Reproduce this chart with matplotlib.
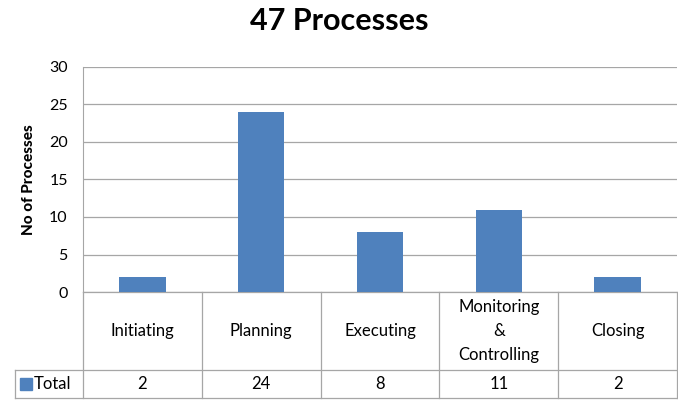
import matplotlib.pyplot as plt
from matplotlib.lines import Line2D
from matplotlib.patches import Rectangle

plt.rcParams['font.family'] = ['Lato', 'DejaVu Sans']

# data
categories = ['Initiating', 'Planning', 'Executing', 'Monitoring\n&\nControlling', 'Closing']
totals = [2, 24, 8, 11, 2]
series_name = 'Total'
bar_color = '#4F81BD'
grid_color = '#A6A6A6'

fig = plt.figure(figsize=(6.78, 4.03), dpi=100)
ax = fig.add_axes([83 / 678, 1 - 292 / 403, 594 / 678, 225 / 403])

x = range(len(categories))
ax.bar(x, totals, width=0.39, color=bar_color, zorder=3)
ax.set_xlim(-0.5, len(categories) - 0.5)
ax.set_ylim(0, 30)
ax.set_yticks(range(0, 31, 5))
ax.yaxis.grid(True, color=grid_color, linewidth=0.9, zorder=0)
ax.set_xticks([])
ax.tick_params(axis='y', length=0, pad=11, labelsize=11.5)
for s in ['top', 'right', 'bottom']:
    ax.spines[s].set_visible(False)
ax.spines['left'].set_color(grid_color)
ax.set_ylabel('No of Processes', fontsize=11, fontweight='black', labelpad=9)

fig.text(0.5, 1 - 21 / 403, '47 Processes', fontsize=22, fontweight='bold',
         ha='center', va='center')

# data table under the chart
row1 = -78 / 225
row2 = -106 / 225
left = -0.5 - 68 / 118.8
tr = ax.get_xaxis_transform()
lk = dict(color=grid_color, linewidth=0.9, transform=tr, clip_on=False)
n = len(categories)
ax.add_line(Line2D([-0.5, n - 0.5], [0, 0], **lk))
ax.add_line(Line2D([left, n - 0.5], [row1, row1], **lk))
ax.add_line(Line2D([left, n - 0.5], [row2, row2], **lk))
ax.add_line(Line2D([left, left], [row1, row2], **lk))
for b in range(n + 1):
    ax.add_line(Line2D([b - 0.5, b - 0.5], [0, row2], **lk))

for i, (c, v) in enumerate(zip(categories, totals)):
    ax.text(i, row1 / 2, c, transform=tr, ha='center', va='center',
            fontsize=12, linespacing=1.6)
    ax.text(i, (row1 + row2) / 2, str(v), transform=tr, ha='center',
            va='center', fontsize=12)

ax.add_patch(Rectangle((left + 0.04, (row1 + row2) / 2 - 0.025), 0.1, 0.05,
                       transform=tr, color=bar_color, clip_on=False))
ax.text(left + 0.16, (row1 + row2) / 2, series_name, transform=tr,
        ha='left', va='center', fontsize=12)

fig.savefig('out.png', dpi=100)
